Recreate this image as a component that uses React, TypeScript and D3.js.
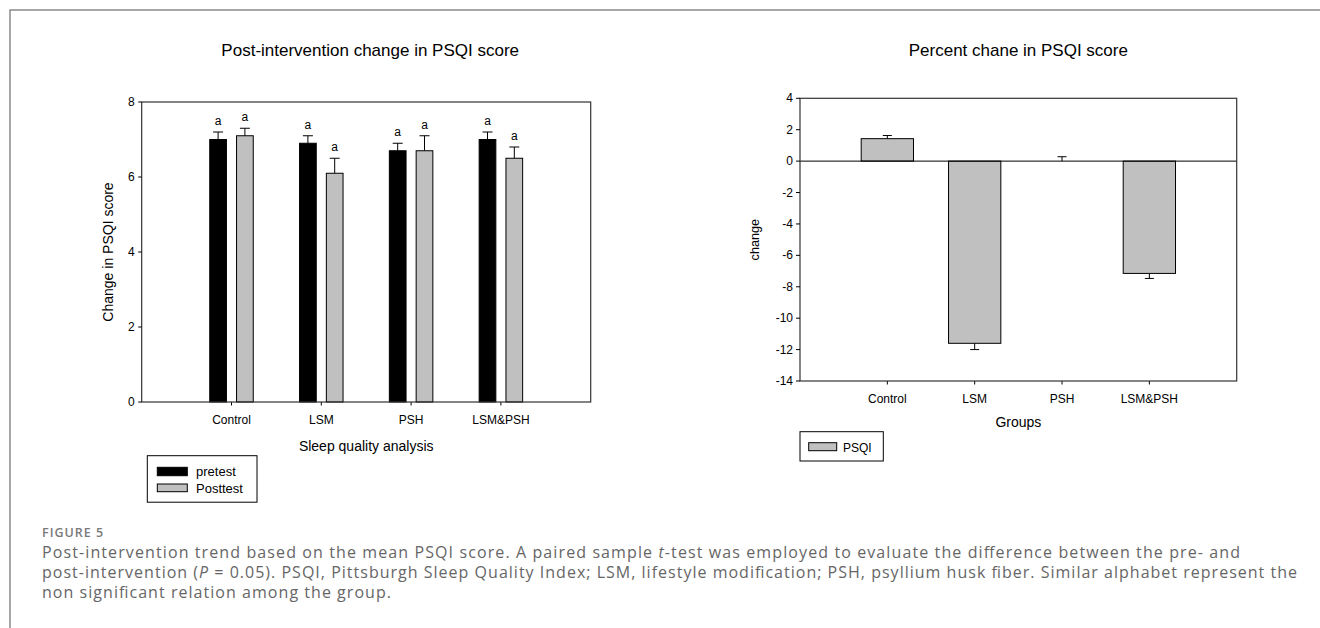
import React from "react";
import * as d3 from "d3";

const groups = ["Control", "LSM", "PSH", "LSM&PSH"];
const pretest = [7.0, 6.9, 6.7, 7.0];
const pretestErr = [0.2, 0.2, 0.2, 0.2];
const posttest = [7.1, 6.1, 6.7, 6.5];
const posttestErr = [0.2, 0.4, 0.4, 0.3];
const preLetters = ["a", "a", "a", "a"];
const postLetters = ["a", "a", "a", "a"];
const leftTicks = [0, 2, 4, 6, 8];

const pctChange = [1.43, -11.6, 0.0, -7.15];
const pctErr = [0.2, 0.4, 0.28, 0.32];
const rightTicks = [4, 2, 0, -2, -4, -6, -8, -10, -12, -14];

const FONT = "'Liberation Sans', Arial, sans-serif";
const TICK = 12;
const TITLE = 17;
const AXT = 14;

function LeftChart() {
  const L = 141.7, R = 590.7, T = 102, B = 402;
  const y = d3.scaleLinear().domain([0, 8]).range([B, T]);
  const x = d3.scalePoint<string>().domain(["", ...groups, " "]).range([L, R]);
  const bw = 16.7, off = 13.4, cap = 5;
  return (
    <g fontFamily={FONT}>
      <text x={(L + R) / 2 + 4} y={55.5} fontSize={TITLE} textAnchor="middle" fill="#000">Post-intervention change in PSQI score</text>
      {groups.map((g, i) => {
        const cx = x(g)!;
        const items = [
          { c: cx - off, v: pretest[i], e: pretestErr[i], fill: "#000", t: preLetters[i] },
          { c: cx + off, v: posttest[i], e: posttestErr[i], fill: "#c0c0c0", t: postLetters[i] },
        ];
        return (
          <g key={g}>
            {items.map((it, k) => (
              <g key={k}>
                <line x1={it.c} x2={it.c} y1={y(it.v)} y2={y(it.v + it.e)} stroke="#000" strokeWidth={1} />
                <line x1={it.c - cap} x2={it.c + cap} y1={y(it.v + it.e)} y2={y(it.v + it.e)} stroke="#000" strokeWidth={1} />
                <rect x={it.c - bw / 2} y={y(it.v)} width={bw} height={y(0) - y(it.v)} fill={it.fill} stroke="#000" strokeWidth={1} />
                <text x={it.c} y={y(it.v + it.e) - 7} fontSize={TICK} textAnchor="middle" fill="#000">{it.t}</text>
              </g>
            ))}
            <line x1={cx} x2={cx} y1={B} y2={B + 3.5} stroke="#000" />
            <text x={cx} y={424} fontSize={TICK} textAnchor="middle" fill="#000">{g}</text>
          </g>
        );
      })}
      <rect x={L} y={T} width={R - L} height={B - T} fill="none" stroke="#333" strokeWidth={1.2} />
      {leftTicks.map((t) => (
        <g key={t}>
          <line x1={L - 3.5} x2={L} y1={y(t)} y2={y(t)} stroke="#000" />
          <text x={L - 7} y={y(t) + 4} fontSize={TICK} textAnchor="end" fill="#000">{t}</text>
        </g>
      ))}
      <text transform={`translate(112.5,${(T + B) / 2}) rotate(-90)`} fontSize={AXT} textAnchor="middle" fill="#000">Change in PSQI score</text>
      <text x={(L + R) / 2} y={450.5} fontSize={AXT} textAnchor="middle" fill="#000">Sleep quality analysis</text>
      <rect x={147.3} y={455.7} width={109.7} height={46.5} fill="#fff" stroke="#000" strokeWidth={1} />
      <rect x={157.3} y={467.3} width={30} height={8.4} fill="#000" stroke="#000" />
      <text x={196} y={476} fontSize={13} fill="#000">pretest</text>
      <rect x={157.3} y={484} width={30} height={7.7} fill="#c0c0c0" stroke="#000" />
      <text x={196} y={492.5} fontSize={13} fill="#000">Posttest</text>
    </g>
  );
}

function RightChart() {
  const L = 800, R = 1236.7, T = 98.3, B = 381;
  const y = d3.scaleLinear().domain([-14, 4]).range([B, T]);
  const x = d3.scalePoint<string>().domain(["", ...groups, " "]).range([L, R]);
  const bw = 52.3, cap = 4.5;
  return (
    <g fontFamily={FONT}>
      <text x={(L + R) / 2} y={55.5} fontSize={TITLE} textAnchor="middle" fill="#000">Percent chane in PSQI score</text>
      {groups.map((g, i) => {
        const cx = x(g)!;
        const v = pctChange[i];
        const e = v >= 0 ? pctErr[i] : -pctErr[i];
        return (
          <g key={g}>
            <line x1={cx} x2={cx} y1={y(v)} y2={y(v + e)} stroke="#000" />
            <line x1={cx - cap} x2={cx + cap} y1={y(v + e)} y2={y(v + e)} stroke="#000" />
            {Math.abs(v) > 0.001 && (
              <rect x={cx - bw / 2} y={Math.min(y(v), y(0))} width={bw} height={Math.abs(y(v) - y(0))} fill="#c0c0c0" stroke="#000" strokeWidth={1} />
            )}
            <line x1={cx} x2={cx} y1={B} y2={B + 3.5} stroke="#000" />
            <text x={cx} y={402.5} fontSize={TICK} textAnchor="middle" fill="#000">{g}</text>
          </g>
        );
      })}
      <line x1={L} x2={R} y1={y(0)} y2={y(0)} stroke="#000" strokeWidth={1} />
      <rect x={L} y={T} width={R - L} height={B - T} fill="none" stroke="#333" strokeWidth={1.2} />
      {rightTicks.map((t) => (
        <g key={t}>
          <line x1={L - 4} x2={L} y1={y(t)} y2={y(t)} stroke="#000" />
          <text x={L - 7} y={y(t) + 4} fontSize={TICK} textAnchor="end" fill="#000">{String(t)}</text>
        </g>
      ))}
      <text transform={`translate(759,${(T + B) / 2}) rotate(-90)`} fontSize={12.7} textAnchor="middle" fill="#000">change</text>
      <text x={(L + R) / 2} y={427} fontSize={AXT} textAnchor="middle" fill="#000">Groups</text>
      <rect x={800} y={431.7} width={83.3} height={29.3} fill="#fff" stroke="#000" strokeWidth={1} />
      <rect x={808.7} y={442.7} width={28} height={8} fill="#c0c0c0" stroke="#000" />
      <text x={843} y={451.5} fontSize={12} fill="#000">PSQI</text>
    </g>
  );
}

export default function App() {
  return (
    <div style={{ position: "fixed", left: 0, top: 0, width: 1320, height: 628, background: "#fff" }}>
      <svg width={1320} height={628} viewBox="0 0 1320 628">
        <rect width={1320} height={628} fill="#fff" />
        <polyline points="10,628 10,10 1320,10" fill="none" stroke="#8a8a8a" strokeWidth={1.5} />
        <LeftChart />
        <RightChart />
        <g fontFamily="'Open Sans', 'Noto Sans', sans-serif">
          <text x={42} y={537} fontSize={12.5} fontWeight={600} fill="#7a7a7a" letterSpacing={1}>FIGURE 5</text>
          <text x={42} y={558} fontSize={16} fill="#666" textLength={1198} lengthAdjust="spacing">
            Post-intervention trend based on the mean PSQI score. A paired sample <tspan fontStyle="italic">t</tspan>-test was employed to evaluate the difference between the pre- and
          </text>
          <text x={42} y={578} fontSize={16} fill="#666" textLength={1255} lengthAdjust="spacing">
            post-intervention (<tspan fontStyle="italic">P</tspan> = 0.05). PSQI, Pittsburgh Sleep Quality Index; LSM, lifestyle modification; PSH, psyllium husk fiber. Similar alphabet represent the
          </text>
          <text x={42} y={598} fontSize={16} fill="#666" textLength={349} lengthAdjust="spacing">non significant relation among the group.</text>
        </g>
      </svg>
    </div>
  );
}
